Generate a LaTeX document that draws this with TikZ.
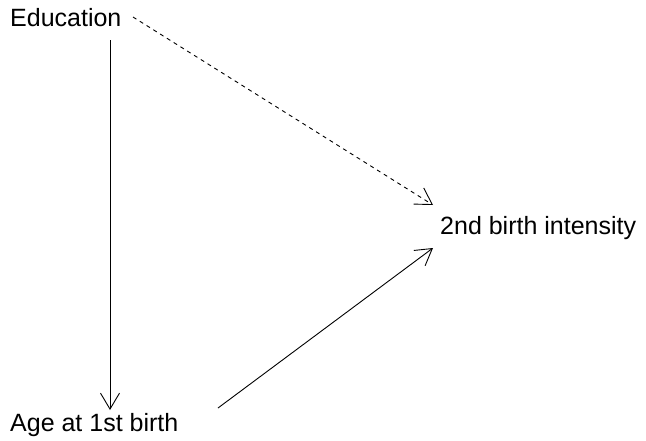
\documentclass[tikz,border=0pt]{standalone}
\usepackage{fontspec}
\setmainfont{Liberation Sans}
\usetikzlibrary{arrows.meta}
\begin{document}
\begin{tikzpicture}[x=1pt,y=-1pt,
  lbl/.style={font=\fontsize{25}{29}\selectfont, inner sep=0pt, anchor=west},
  conn/.style={line width=0.9pt, -{Straight Barb[length=16pt,width=19pt,line width=0.9pt]}}]
\useasboundingbox (0,0) rectangle (646,440);
\node[lbl] (edu) at (10,18) {Education};
\node[lbl] (age) at (10,425) {Age at 1st birth};
\node[lbl] (sec) at (440,228) {2nd birth intensity};
\coordinate (e1) at (110,40);
\coordinate (a1) at (110,410);
\coordinate (e2) at (133,17);
\coordinate (s1) at (433,205);
\coordinate (a2) at (218,408);
\coordinate (s2) at (433,248);
\draw[conn] (e1) -- (a1);
\draw[conn, dash pattern=on 4pt off 4pt] (e2) -- (s1);
\draw[conn] (a2) -- (s2);
\end{tikzpicture}
\end{document}
